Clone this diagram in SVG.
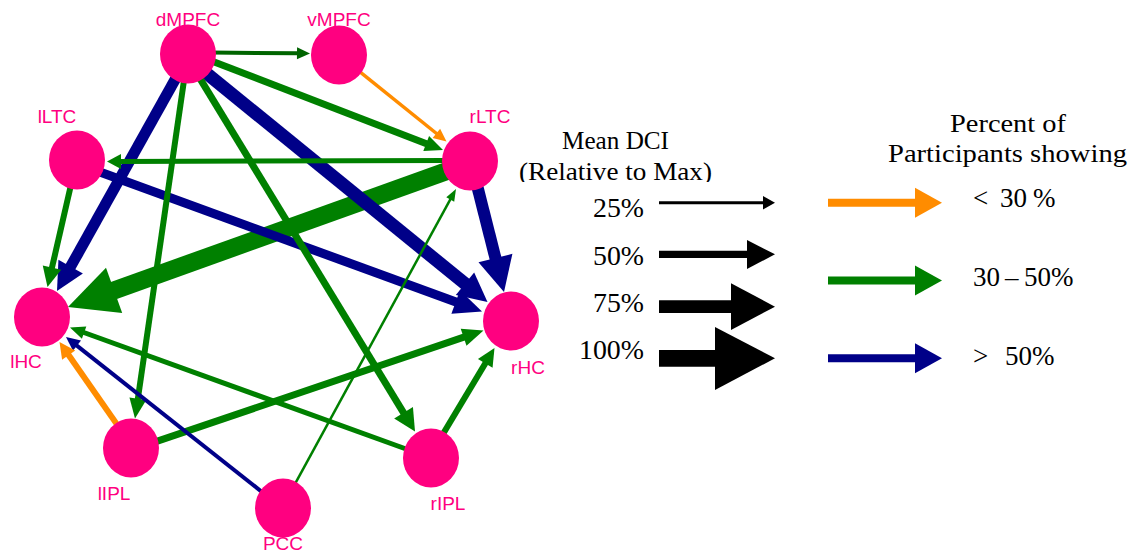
<svg xmlns="http://www.w3.org/2000/svg" width="1133" height="552" viewBox="0 0 1133 552">
<style>
.n{fill:#ff0080}
.lbl{font-family:"Liberation Sans",Arial,sans-serif;font-size:19px;fill:#ff0080;text-anchor:middle}
.lg{font-family:"Liberation Serif","Times New Roman",serif;font-size:26px;fill:#000}
.num{font-size:27px}
.e line{stroke-linecap:butt}
.cg line{stroke:#008000}.cg polygon{fill:#008000}
.cd line{stroke:#006400}.cd polygon{fill:#006400}
.cn line{stroke:#000088}.cn polygon{fill:#000088}
.co line{stroke:#ff8c00}.co polygon{fill:#ff8c00}
.ck line{stroke:#000}.ck polygon{fill:#000}
</style>
<defs>
<clipPath id="clipRel"><rect x="500" y="150" width="240" height="32"/></clipPath>
</defs>
<rect width="1133" height="552" fill="#fff"/>
<g id="connectors">
  <g class="e cg" id="e-rLTC-lHC"><line x1="452.6" y1="169" x2="113.2" y2="290.7" stroke-width="18"/><polygon points="68,307 106,267.8 122.2,313"/></g>
  <g class="e cn" id="e-dMPFC-rHC"><line x1="200.3" y1="68.2" x2="465.79" y2="284.32" stroke-width="13"/><polygon points="487.5,302 455.85,294.93 474.17,272.45"/></g>
  <g class="e cn" id="e-lLTC-rHC"><line x1="94.4" y1="169.9" x2="456.64" y2="302.24" stroke-width="9"/><polygon points="482,311.5 451.41,313.64 459.99,290.16"/></g>
  <g class="e cn" id="e-dMPFC-lHC"><line x1="178.9" y1="72.8" x2="70.17" y2="267.43" stroke-width="11"/><polygon points="57,291 58.44,259.73 82.88,273.39"/></g>
  <g class="e cn" id="e-rLTC-rHC"><line x1="475.5" y1="179.2" x2="495.68" y2="259.05" stroke-width="12"/><polygon points="504,292 478.48,262.36 512.4,253.8"/></g>
  <g class="e cg" id="e-dMPFC-rLTC"><line x1="208.4" y1="59.8" x2="427.13" y2="143.9" stroke-width="7"/><polygon points="443,150 423.33,151.01 429.07,136.07"/></g>
  <g class="e cg" id="e-rLTC-lLTC"><line x1="448" y1="160.5" x2="120" y2="161.46" stroke-width="5"/><polygon points="107,161.5 121,154 121,169"/></g>
  <g class="e cg" id="e-dMPFC-lIPL"><line x1="184.9" y1="74.1" x2="137.73" y2="399.69" stroke-width="6"/><polygon points="135,418.5 129.46,397.48 146.28,399.92"/></g>
  <g class="e cg" id="e-dMPFC-rIPL"><line x1="195.9" y1="71.9" x2="404.07" y2="413.56" stroke-width="7"/><polygon points="415,431.5 394.16,418.43 412.94,406.99"/></g>
  <g class="e cg" id="e-lLTC-lHC"><line x1="72.3" y1="179.2" x2="51.77" y2="268.49" stroke-width="6"/><polygon points="47.5,287 42.74,265.39 61.24,269.65"/></g>
  <g class="e cg" id="e-lIPL-rHC"><line x1="149.3" y1="443.9" x2="464.56" y2="336.93" stroke-width="7"/><polygon points="483.5,330.5 466.5,345.77 460.72,328.73"/></g>
  <g class="e cg" id="e-rIPL-lHC"><line x1="411.6" y1="451" x2="83.17" y2="332.26" stroke-width="5"/><polygon points="70,327.5 86.32,326.49 81.9,338.71"/></g>
  <g class="e cg" id="e-rIPL-rHC"><line x1="439.9" y1="439.1" x2="485.76" y2="362.59" stroke-width="6"/><polygon points="494.5,348 492.55,367.82 477.95,359.08"/></g>
  <g class="e cn" id="e-PCC-lHC"><line x1="266.7" y1="495.7" x2="76.2" y2="345.06" stroke-width="4"/><polygon points="66,337 81.01,340.58 72.95,350.78"/></g>
  <g class="e cg" id="e-PCC-rLTC"><line x1="293.1" y1="487.3" x2="450.73" y2="198.65" stroke-width="2.5"/><polygon points="456,189 454.2,201.69 446.3,197.37"/></g>
  <g class="e co" id="e-lIPL-lHC"><line x1="119.4" y1="427.9" x2="68.08" y2="354.3" stroke-width="6"/><polygon points="59.5,342 75.21,350.54 62.09,359.7"/></g>
  <g class="e co" id="e-vMPFC-rLTC"><line x1="355.3" y1="68.2" x2="437.15" y2="133.99" stroke-width="3.5"/><polygon points="446.5,141.5 432.61,138.04 440.13,128.68"/></g>
  <g class="e cd" id="e-dMPFC-vMPFC"><line x1="210" y1="52.4" x2="298" y2="53.37" stroke-width="4"/><polygon points="310,53.5 297.06,47.36 296.94,59.36"/></g>
</g>
<g id="node-dMPFC"><ellipse class="n" cx="188" cy="54" rx="28" ry="29.5"/><text class="lbl" x="188" y="26">dMPFC</text></g>
<g id="node-vMPFC"><ellipse class="n" cx="339" cy="55" rx="28" ry="29.5"/><text class="lbl" x="339" y="26">vMPFC</text></g>
<g id="node-lLTC"><ellipse class="n" cx="77" cy="160" rx="28" ry="29.5"/><text class="lbl" x="57" y="123">lLTC</text></g>
<g id="node-rLTC"><ellipse class="n" cx="470" cy="161" rx="28" ry="29.5"/><text class="lbl" x="490" y="123">rLTC</text></g>
<g id="node-lHC"><ellipse class="n" cx="42" cy="317" rx="28" ry="29.5"/><text class="lbl" x="26" y="368">lHC</text></g>
<g id="node-rHC"><ellipse class="n" cx="511" cy="321" rx="28" ry="29.5"/><text class="lbl" x="528" y="374">rHC</text></g>
<g id="node-lIPL"><ellipse class="n" cx="131" cy="448" rx="28" ry="29.5"/><text class="lbl" x="114" y="500">lIPL</text></g>
<g id="node-rIPL"><ellipse class="n" cx="431" cy="458" rx="28" ry="29.5"/><text class="lbl" x="448" y="510">rIPL</text></g>
<g id="node-PCC"><ellipse class="n" cx="283" cy="508" rx="28" ry="29.5"/><text class="lbl" x="283" y="550">PCC</text></g>
<g id="legend">
  <text class="lg" x="562" y="149" textLength="107" lengthAdjust="spacingAndGlyphs">Mean DCI</text>
  <text class="lg" x="519" y="180" textLength="193" lengthAdjust="spacingAndGlyphs" clip-path="url(#clipRel)">(Relative to Max)</text>
  <text class="lg" x="950" y="132" textLength="116" lengthAdjust="spacingAndGlyphs">Percent of</text>
  <text class="lg" x="888" y="162" textLength="239" lengthAdjust="spacingAndGlyphs">Participants showing</text>
  <text class="lg num" x="593" y="217" textLength="51" lengthAdjust="spacingAndGlyphs">25%</text>
  <text class="lg num" x="593" y="265" textLength="51" lengthAdjust="spacingAndGlyphs">50%</text>
  <text class="lg num" x="593" y="312" textLength="51" lengthAdjust="spacingAndGlyphs">75%</text>
  <text class="lg num" x="579" y="359" textLength="65" lengthAdjust="spacingAndGlyphs">100%</text>
  <text class="lg num" y="207"><tspan x="973">&lt;</tspan><tspan x="1000">30</tspan><tspan x="1033">%</tspan></text>
  <text class="lg num" y="286"><tspan x="973">30</tspan><tspan x="1005">–</tspan><tspan x="1024">50%</tspan></text>
  <text class="lg num" y="365"><tspan x="973">&gt;</tspan><tspan x="1005">50%</tspan></text>
  <g class="e ck" id="leg-25"><line x1="659" y1="202.7" x2="764" y2="202.7" stroke-width="3"/><polygon points="763,196 775,202.7 763,209.5"/></g>
  <g class="e ck" id="leg-50"><line x1="659" y1="254.3" x2="748" y2="254.3" stroke-width="7.3"/><polygon points="747,240 775,254.3 747,269"/></g>
  <g class="e ck" id="leg-75"><line x1="659" y1="306.7" x2="732" y2="306.7" stroke-width="12.7"/><polygon points="731,283.3 775,306.7 731,330"/></g>
  <g class="e ck" id="leg-100"><line x1="659" y1="358.3" x2="716" y2="358.3" stroke-width="16.7"/><polygon points="715,327 775,358.3 715,390"/></g>
  <g class="e co" id="leg-orange"><line x1="828" y1="202.7" x2="916" y2="202.7" stroke-width="8"/><polygon points="915,187.7 942,202.7 915,217.7"/></g>
  <g class="e cg" id="leg-green"><line x1="828" y1="280.5" x2="916" y2="280.5" stroke-width="8"/><polygon points="915,265.5 942,280.5 915,295.5"/></g>
  <g class="e cn" id="leg-navy"><line x1="828" y1="358.3" x2="916" y2="358.3" stroke-width="8"/><polygon points="915,343.3 942,358.3 915,373.3"/></g>
</g>
</svg>
